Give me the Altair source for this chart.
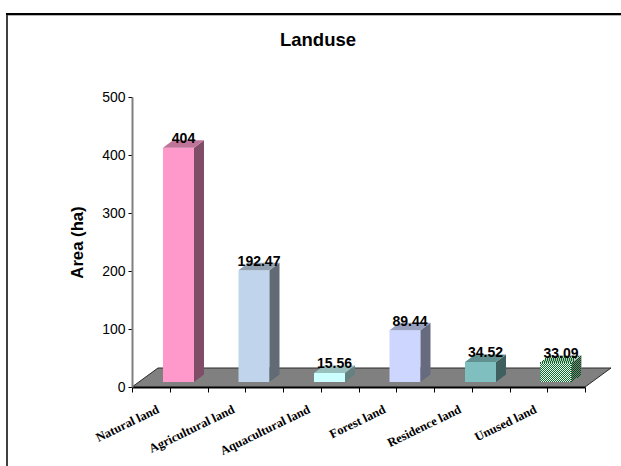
import json
import altair as alt
import pandas as pd

# Land area by use, in hectares
categories = ["Natural land", "Agricultural land", "Aquacultural land", "Forest land", "Residence land", "Unused land"]
areas = [404, 192.47, 15.56, 89.44, 34.52, 33.09]
front_colors = ["#FF99CC", "#C0D5EB", "#CCFFFF", "#CCD6FF", "#80BFBF", "#FFFFFF"]
side_colors = ["#804D66", "#606B76", "#668080", "#666B80", "#406060", "#808080"]
top_colors = ["#C07399", "#90A0B0", "#99BFBF", "#99A0BF", "#609090", "#BFBFBF"]

PLOT_W, PLOT_H = 453, 290
X_UNITS, Y_UNITS = 6, 500
PX_X = PLOT_W / X_UNITS   # pixels per category
PX_Y = PLOT_H / Y_UNITS   # pixels per hectare


def ux(px):
    return px / PX_X


def uy(px):
    return px / PX_Y


# Pseudo-3D depth of the bars and of the floor, expressed in scale units
BAR_DX, BAR_DY = ux(10), uy(7.5)
FLOOR_DX, FLOOR_DY = ux(26), uy(19)
BAR_LIFT = uy(5)
BAR_START = ux(31)
BAR_W = ux(31)

polys = []


def add_poly(name, color, corners):
    for i, (x, y) in enumerate(corners):
        polys.append({"poly": name, "fill": color, "i": i, "x": x, "y": y})


# Floor parallelogram; its back and right edges get a thin dark outline
floor_df = pd.DataFrame({
    "x": [0, FLOOR_DX, X_UNITS + FLOOR_DX, X_UNITS],
    "y": [0, FLOOR_DY, FLOOR_DY, 0],
    "i": [0, 1, 2, 3],
})

centers = []
for k, value in enumerate(areas):
    x0 = k + BAR_START
    x1 = x0 + BAR_W
    y0 = BAR_LIFT
    y1 = BAR_LIFT + value
    centers.append((x0 + x1) / 2)
    add_poly(f"front{k}", front_colors[k], [(x0, y0), (x0, y1), (x1, y1), (x1, y0)])
    add_poly(f"side{k}", side_colors[k], [(x1, y0), (x1, y1), (x1 + BAR_DX, y1 + BAR_DY), (x1 + BAR_DX, y0 + BAR_DY)])
    add_poly(f"top{k}", top_colors[k], [(x0, y1), (x0 + BAR_DX, y1 + BAR_DY), (x1 + BAR_DX, y1 + BAR_DY), (x1, y1)])

# Checkered fill of the last bar: one-pixel dashed columns and rows
k = len(areas) - 1
left_px = round((k + BAR_START) * PX_X)
bar_px = round(BAR_W * PX_X)
base_px = round(BAR_LIFT * PX_Y)
height_px = round(areas[k] * PX_Y)
checks = []
for c in range(bar_px):
    checks.append({"x": ux(left_px + c + 0.5), "x2": ux(left_px + c + 0.5),
                   "y": uy(base_px), "y2": uy(base_px + height_px),
                   "odd": c % 2, "color": "#007A25"})
for c in range(10):
    lift = round(c * 0.75)
    checks.append({"x": ux(left_px + bar_px + c + 0.5), "x2": ux(left_px + bar_px + c + 0.5),
                   "y": uy(base_px + lift), "y2": uy(base_px + height_px + lift),
                   "odd": (c + lift) % 2, "color": "#004A17"})
for r in range(7):
    shift = round(r * 1.33)
    checks.append({"x": ux(left_px + shift), "x2": ux(left_px + bar_px + shift),
                   "y": uy(base_px + height_px + r + 0.5), "y2": uy(base_px + height_px + r + 0.5),
                   "odd": r % 2, "color": "#006F22"})
checks_df = pd.DataFrame(checks)

x_scale = alt.Scale(domain=[0, X_UNITS], nice=False, zero=False)
y_scale = alt.Scale(domain=[0, Y_UNITS], nice=False, zero=False)

names_js = json.dumps(categories)
x_axis = alt.Axis(
    values=[i / 2 for i in range(2 * X_UNITS + 1)],
    grid=False, title=None, zindex=1,
    domainColor="#000000", domainWidth=2,
    tickColor="#000000", tickSize=5, tickWidth=1,
    labelExpr=f"datum.value % 1 == 0.5 ? {names_js}[floor(datum.value)] : ''",
    labelAngle=-26, labelAlign="right", labelBaseline="middle",
    labelOffset=-12, labelPadding=16,
    labelFont="Liberation Serif", labelFontWeight="bold", labelFontSize=12.5,
    labelColor="#000000", labelOverlap=False, labelBound=False, labelFlush=False,
)
y_axis = alt.Axis(
    values=[0, 100, 200, 300, 400, 500],
    grid=False, title="Area (ha)", zindex=1,
    domainColor="#808080", domainWidth=2,
    tickColor="#000000", tickSize=4, tickWidth=1,
    labelFont="Liberation Sans", labelFontSize=14, labelColor="#000000", labelPadding=3,
    titleFont="Liberation Sans", titleFontWeight="bold", titleFontSize=16.7,
    titleColor="#000000", titlePadding=15,
)
x_enc = alt.X("x:Q", scale=x_scale, axis=x_axis)
y_enc = alt.Y("y:Q", scale=y_scale, axis=y_axis)

floor_fill = (
    alt.Chart(floor_df)
    .mark_line(fill="#808080", strokeWidth=0, strokeOpacity=0)
    .encode(x=x_enc, y=y_enc, order="i:Q")
)
floor_outline = (
    alt.Chart(floor_df)
    .mark_line(color="#2A2A2A", strokeWidth=1)
    .encode(x=x_enc, y=y_enc, order="i:Q")
)

faces = (
    alt.Chart(pd.DataFrame(polys))
    .mark_line(strokeWidth=0, strokeOpacity=0)
    .encode(
        x=x_enc,
        y=y_enc,
        detail="poly:N",
        order="i:Q",
        fill=alt.Fill("fill:N", scale=None),
    )
)

checker_even = (
    alt.Chart(checks_df).transform_filter("datum.odd == 0")
    .mark_rule(strokeWidth=1, strokeDash=[1, 1])
    .encode(x=x_enc, x2="x2:Q", y=y_enc, y2="y2:Q", color=alt.Color("color:N", scale=None))
)
checker_odd = (
    alt.Chart(checks_df).transform_filter("datum.odd == 1")
    .mark_rule(strokeWidth=1, strokeDash=[1, 1], strokeDashOffset=1)
    .encode(x=x_enc, x2="x2:Q", y=y_enc, y2="y2:Q", color=alt.Color("color:N", scale=None))
)

value_labels = (
    alt.Chart(pd.DataFrame({"x": centers, "area": areas, "y": [v + BAR_LIFT for v in areas]}))
    .mark_text(font="Liberation Sans", fontWeight="bold", fontSize=14, color="#000000",
               dx=5, dy=-4.5, baseline="alphabetic", align="center")
    .encode(x=x_enc, y=y_enc, text=alt.Text("area:Q", format=".2~f"))
)

# Chart heading, placed above the plot area
heading = (
    alt.Chart(pd.DataFrame({"label": ["Landuse"]}))
    .mark_text(font="Liberation Sans", fontWeight="bold", fontSize=18.5, color="#000000",
               align="center", baseline="alphabetic")
    .encode(x=alt.value(186), y=alt.value(-51), text="label:N")
)

# Frame of the page: heavy top and left edges only
frame_left = alt.Chart(pd.DataFrame({"a": [0]})).mark_rule(color="#404040", strokeWidth=2).encode(
    x=alt.value(-125), y=alt.value(-84), y2=alt.value(369))
frame_top = alt.Chart(pd.DataFrame({"a": [0]})).mark_rule(color="#000000", strokeWidth=2).encode(
    x=alt.value(-126), x2=alt.value(489), y=alt.value(-83))
frame_shadow = alt.Chart(pd.DataFrame({"a": [0]})).mark_rule(color="#B4B4B4", strokeWidth=1).encode(
    x=alt.value(-124), x2=alt.value(489), y=alt.value(-81.5))

chart = (
    alt.layer(floor_fill, floor_outline, faces, checker_even, checker_odd, value_labels, heading,
              frame_left, frame_top, frame_shadow)
    .properties(
        width=PLOT_W, height=PLOT_H,
        padding={"left": 132, "top": 97, "right": 36, "bottom": 79},
        autosize=alt.AutoSizeParams(type="none"),
        background="#FFFFFF",
    )
    .configure_view(stroke=None)
)

chart.save("out.html", embed_options={"renderer": "svg", "actions": False})
